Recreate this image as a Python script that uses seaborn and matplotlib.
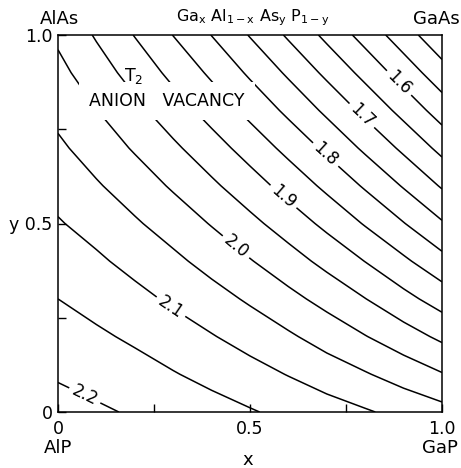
import numpy as np
import matplotlib
matplotlib.use("Agg")
import matplotlib.pyplot as plt
import seaborn as sns

sns.set_style("ticks")
plt.rcParams['font.family'] = ['DejaVu Sans']
plt.rcParams.update({'text.color': 'black', 'axes.edgecolor': 'black',
                     'xtick.color': 'black', 'ytick.color': 'black',
                     'axes.labelcolor': 'black'})

# composition grid: x = Ga fraction, y = As fraction
x_comp = [0.0, 0.1, 0.2, 0.3, 0.4, 0.5, 0.6, 0.7, 0.8, 0.9, 1.0]
y_comp = [0.0, 0.1, 0.2, 0.3, 0.4, 0.5, 0.6, 0.7, 0.8, 0.9, 1.0]

# T2 anion-vacancy level (eV), rows = y, columns = x
energy = [
    [2.218, 2.207, 2.195, 2.182, 2.169, 2.154, 2.138, 2.122, 2.105, 2.086, 2.067],
    [2.195, 2.183, 2.169, 2.153, 2.136, 2.118, 2.098, 2.076, 2.054, 2.029, 2.003],
    [2.173, 2.158, 2.142, 2.123, 2.103, 2.081, 2.057, 2.030, 2.002, 1.972, 1.940],
    [2.150, 2.133, 2.114, 2.092, 2.069, 2.043, 2.014, 1.984, 1.951, 1.915, 1.878],
    [2.127, 2.108, 2.085, 2.061, 2.033, 2.003, 1.971, 1.936, 1.899, 1.859, 1.816],
    [2.104, 2.082, 2.056, 2.028, 1.997, 1.963, 1.927, 1.888, 1.846, 1.802, 1.755],
    [2.082, 2.055, 2.026, 1.994, 1.959, 1.922, 1.882, 1.839, 1.794, 1.746, 1.695],
    [2.059, 2.028, 1.995, 1.959, 1.921, 1.880, 1.836, 1.790, 1.741, 1.690, 1.636],
    [2.036, 2.001, 1.963, 1.923, 1.881, 1.836, 1.789, 1.740, 1.688, 1.634, 1.577],
    [2.014, 1.973, 1.931, 1.887, 1.841, 1.792, 1.742, 1.689, 1.635, 1.578, 1.520],
    [1.991, 1.945, 1.898, 1.849, 1.799, 1.747, 1.693, 1.638, 1.581, 1.523, 1.463],
]

plain_levels = [1.50, 1.55, 1.65, 1.75, 1.85, 1.95, 2.05, 2.15]
label_levels = [1.60, 1.70, 1.80, 1.90, 2.00, 2.10, 2.20]

fig, ax = plt.subplots(figsize=(4.61, 4.68), dpi=100)
fig.subplots_adjust(left=58/461, right=442/461, bottom=56/468, top=433/468)

Z = np.array(energy)
ax.contour(x_comp, y_comp, Z, levels=plain_levels, colors='black', linewidths=1.1)
cs = ax.contour(x_comp, y_comp, Z, levels=label_levels, colors='black', linewidths=1.1)
label_pos = [(0.904, 0.889), (0.805, 0.801), (0.708, 0.695), (0.591, 0.576),
             (0.461, 0.435), (0.294, 0.279), (0.083, 0.072)]
ax.clabel(cs, manual=label_pos, inline=True, fmt='%.1f', fontsize=12, inline_spacing=4)

ax.set_xlim(0, 1); ax.set_ylim(0, 1)
ax.set_xticks([0, 0.25, 0.5, 0.75, 1.0])
ax.set_xticklabels(['0', '', '0.5', '', '1.0'])
ax.set_yticks([0, 0.25, 0.5, 0.75, 1.0])
ax.set_yticklabels(['0', '', 'y 0.5', '', '1.0'])
ax.tick_params(direction='in', length=6, width=1, labelsize=12.5, top=False, right=False)
ax.tick_params(axis='x', pad=6)
ax.tick_params(axis='y', pad=4)
for s in ax.spines.values():
    s.set_linewidth(1.1)

ax.text(0.284, 0.825, 'ANION   VACANCY', fontsize=12.5, ha='center', va='center', zorder=5,
        bbox=dict(facecolor='white', edgecolor='none', boxstyle='square,pad=0.6'))
ax.text(0.197, 0.89, r'T$_2$', fontsize=12.5, ha='center', va='center', zorder=6)

ax.text(0.003, 1.042, 'AlAs', fontsize=13, ha='center', va='center', transform=ax.transAxes)
ax.text(0.985, 1.042, 'GaAs', fontsize=13, ha='center', va='center', transform=ax.transAxes)
ax.text(0.508, 1.045, r'Ga$_\mathrm{x}$ Al$_\mathrm{1-x}$ As$_\mathrm{y}$ P$_\mathrm{1-y}$',
        fontsize=11.5, ha='center', va='center', transform=ax.transAxes)
ax.text(0.0, -0.095, 'AlP', fontsize=13, ha='center', va='center', transform=ax.transAxes)
ax.text(0.995, -0.095, 'GaP', fontsize=13, ha='center', va='center', transform=ax.transAxes)
ax.text(0.495, -0.127, 'x', fontsize=13, ha='center', va='center', transform=ax.transAxes)

plt.savefig("out.png")
